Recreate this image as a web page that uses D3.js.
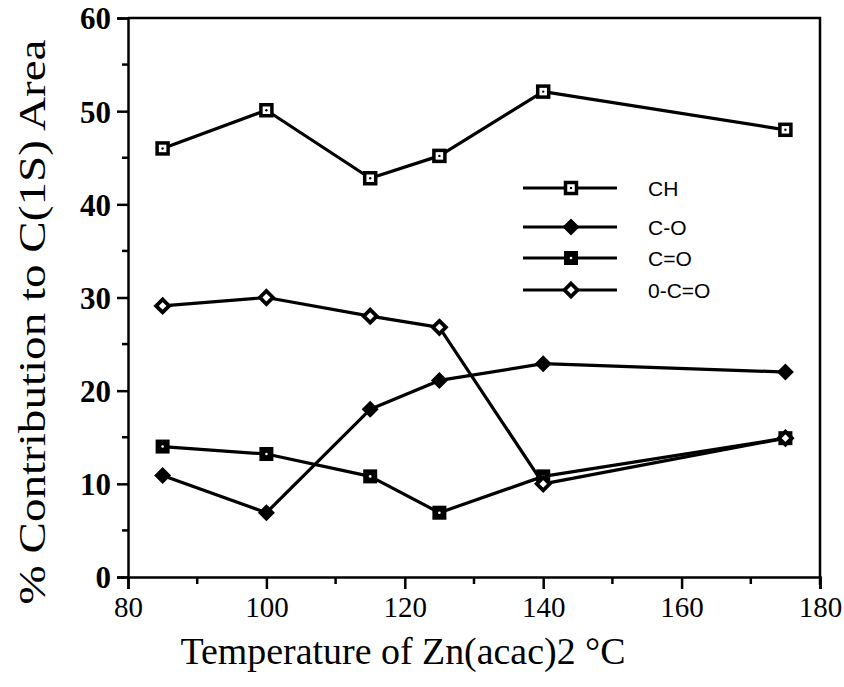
<!DOCTYPE html>
<html>
<head>
<meta charset="utf-8">
<script src="https://cdn.jsdelivr.net/npm/d3@7"></script>
<style>
  html, body { margin: 0; padding: 0; background: #fff; }
  svg { display: block; }
</style>
</head>
<body>
<svg id="chart" width="844" height="687"></svg>
<script>
// ---- data ----
const temperatures = [85, 100, 115, 125, 140, 175];
const seriesNames = ["CH", "C-O", "C=O", "0-C=O"];
const valuesCH  = [46.0, 50.1, 42.8, 45.2, 52.1, 48.0];
const valuesCO  = [10.9, 6.9, 18.0, 21.1, 22.9, 22.0];
const valuesC2O = [14.0, 13.2, 10.8, 6.9, 10.8, 14.9];
const valuesOCO = [29.1, 30.0, 28.0, 26.8, 10.0, 14.9];
const xTicks = [80, 100, 120, 140, 160, 180];
const yTicks = [0, 10, 20, 30, 40, 50, 60];
const xLabel = "Temperature of Zn(acac)2 \u00B0C";
const yLabel = "% Contribution to C(1S) Area";

const series = [
  { name: seriesNames[0], values: valuesCH,  marker: "openSquare" },
  { name: seriesNames[1], values: valuesCO,  marker: "filledDiamond" },
  { name: seriesNames[2], values: valuesC2O, marker: "filledSquare" },
  { name: seriesNames[3], values: valuesOCO, marker: "openDiamond" }
];

// ---- layout ----
const svg = d3.select("#chart");
const pLeft = 128, pRight = 820, pTop = 18, pBottom = 577;
const x = d3.scaleLinear().domain([80, 180]).range([pLeft, pRight]);
const y = d3.scaleLinear().domain([0, 60]).range([pBottom, pTop]);
const serif = "'Liberation Serif', 'Times New Roman', serif";

// frame: top and right lines
svg.append("path")
  .attr("d", `M${pLeft},${pTop}H${pRight}V${pBottom + 8}`)
  .attr("fill", "none").attr("stroke", "#000").attr("stroke-width", 2.5);

// x axis
const xAxis = d3.axisBottom(x).tickValues(xTicks).tickSize(12).tickPadding(7).tickFormat(d3.format("d"));
const gx = svg.append("g").attr("transform", `translate(0,${pBottom})`).call(xAxis);
const xMinor = d3.range(90, 180, 20);
gx.selectAll(".minor").data(xMinor).enter().append("line")
  .attr("x1", d => x(d)).attr("x2", d => x(d)).attr("y1", 0).attr("y2", 7)
  .attr("stroke", "#000").attr("stroke-width", 2.5);

// y axis
const yAxis = d3.axisLeft(y).tickValues(yTicks).tickSize(11).tickPadding(6).tickFormat(d3.format("d"));
const gy = svg.append("g").attr("transform", `translate(${pLeft},0)`).call(yAxis);
const yMinor = d3.range(5, 60, 10);
gy.selectAll(".minor").data(yMinor).enter().append("line")
  .attr("y1", d => y(d)).attr("y2", d => y(d)).attr("x1", 0).attr("x2", -6)
  .attr("stroke", "#000").attr("stroke-width", 2.5);

[gx, gy].forEach(g => {
  g.select(".domain").attr("stroke", "#000").attr("stroke-width", 2.5);
  g.selectAll(".tick line").attr("stroke", "#000").attr("stroke-width", 2.5);
  g.selectAll(".tick text")
    .attr("font-family", serif)
    .attr("font-size", 29).attr("fill", "#000");
});
gy.selectAll(".tick text").attr("dy", "0.35em").attr("font-weight", "bold").attr("font-size", 31);

// axis titles
svg.append("text")
  .attr("x", 403).attr("y", 664)
  .attr("text-anchor", "middle")
  .attr("font-family", serif)
  .attr("font-size", 37).attr("fill", "#000")
  .attr("textLength", 445).attr("lengthAdjust", "spacingAndGlyphs")
  .text(xLabel);

svg.append("text")
  .attr("transform", `translate(45,322) rotate(-90)`)
  .attr("text-anchor", "middle")
  .attr("font-family", serif)
  .attr("font-size", 38).attr("fill", "#000")
  .attr("textLength", 565).attr("lengthAdjust", "spacingAndGlyphs")
  .text(yLabel);

// ---- markers ----
function drawMarker(g, type, cx, cy) {
  if (type === "openSquare") {
    g.append("rect").attr("x", cx - 5.5).attr("y", cy - 5.5).attr("width", 11).attr("height", 11)
      .attr("fill", "#fff").attr("stroke", "#000").attr("stroke-width", 3.5);
    g.append("circle").attr("cx", cx).attr("cy", cy).attr("r", 1.2).attr("fill", "#000");
  } else if (type === "filledSquare") {
    g.append("rect").attr("x", cx - 7).attr("y", cy - 7).attr("width", 14).attr("height", 14)
      .attr("fill", "#000");
    g.append("circle").attr("cx", cx).attr("cy", cy).attr("r", 1.3).attr("fill", "#fff");
  } else if (type === "filledDiamond") {
    g.append("path").attr("d", `M${cx},${cy - 8.5}L${cx + 8.5},${cy}L${cx},${cy + 8.5}L${cx - 8.5},${cy}Z`)
      .attr("fill", "#000");
  } else if (type === "openDiamond") {
    g.append("path").attr("d", `M${cx},${cy - 6.5}L${cx + 6.5},${cy}L${cx},${cy + 6.5}L${cx - 6.5},${cy}Z`)
      .attr("fill", "#fff").attr("stroke", "#000").attr("stroke-width", 3.8);
  }
}

const line = d3.line().x(d => x(d[0])).y(d => y(d[1]));
const plot = svg.append("g");
series.forEach(s => {
  const pts = temperatures.map((t, i) => [t, s.values[i]]);
  plot.append("path").datum(pts).attr("d", line)
    .attr("fill", "none").attr("stroke", "#000").attr("stroke-width", 3.2).attr("stroke-linejoin", "round");
});
series.forEach(s => {
  const g = plot.append("g");
  temperatures.forEach((t, i) => drawMarker(g, s.marker, x(t), y(s.values[i])));
});

// ---- legend ----
const legendY = [188, 227, 258, 290];
const legend = svg.append("g");
series.forEach((s, i) => {
  const ly = legendY[i];
  legend.append("line").attr("x1", 523).attr("x2", 617).attr("y1", ly).attr("y2", ly)
    .attr("stroke", "#000").attr("stroke-width", 3.2);
  drawMarker(legend, s.marker, 571, ly);
  legend.append("text").attr("x", 648).attr("y", ly).attr("dy", "0.36em")
    .attr("font-family", "'Liberation Sans', Arial, sans-serif")
    .attr("font-size", 21).attr("fill", "#000")
    .text(s.name);
});
</script>
</body>
</html>
